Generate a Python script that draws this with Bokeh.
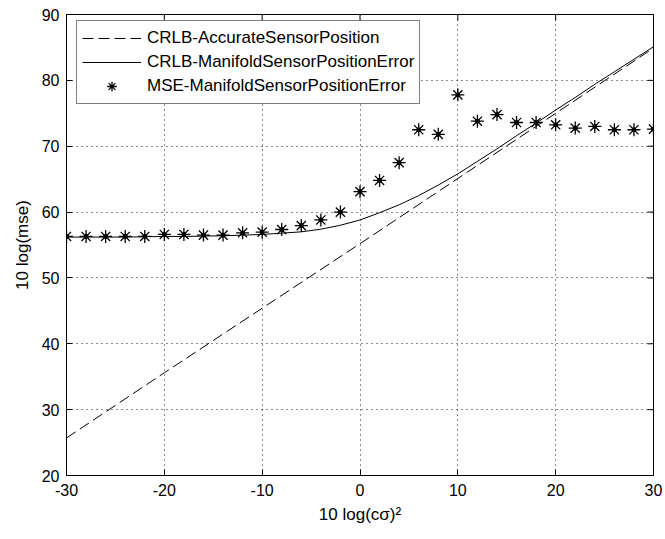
import math
from bokeh.plotting import figure
from bokeh.models import Range1d, FixedTicker, Legend, LegendItem
from bokeh.embed import file_html
from bokeh.resources import INLINE

# ---- data ----
x_crlb_acc = [-30, -20, -10, 0, 10, 20, 30]
y_crlb_acc = [25.7, 35.6, 45.4, 55.2, 65.1, 75.0, 84.9]

x_grid = [-30, -28, -26, -24, -22, -20, -18, -16, -14, -12, -10, -8, -6, -4, -2,
          0, 2, 4, 6, 8, 10, 12, 14, 16, 18, 20, 22, 24, 26, 28, 30]
y_crlb_man = [56.2, 56.2, 56.2, 56.2, 56.25, 56.3, 56.3, 56.35, 56.4, 56.5, 56.6,
              56.8, 57.0, 57.4, 58.0, 58.8, 59.9, 61.1, 62.5, 64.1, 65.8, 67.7,
              69.6, 71.6, 73.5, 75.5, 77.4, 79.4, 81.3, 83.2, 85.1]
y_mse_man = [56.3, 56.3, 56.3, 56.3, 56.3, 56.6, 56.6, 56.5, 56.5, 56.85, 56.95,
             57.35, 57.95, 58.8, 60.0, 63.1, 64.8, 67.5, 72.5, 71.8, 77.8, 73.8,
             74.8, 73.6, 73.6, 73.25, 72.75, 73.0, 72.5, 72.5, 72.6]

x_ticks = [-30, -20, -10, 0, 10, 20, 30]
y_ticks = [20, 30, 40, 50, 60, 70, 80, 90]
x_tick_labels = ["-30", "-20", "-10", "0", "10", "20", "30"]

labels = ["CRLB-AccurateSensorPosition",
          "CRLB-ManifoldSensorPositionError",
          "MSE-ManifoldSensorPositionError"]

FONT = "Liberation Sans"
X0, X1 = x_ticks[0], x_ticks[-1]
Y0, Y1 = y_ticks[0], y_ticks[-1]

p = figure(width=665, height=539, output_backend="svg", toolbar_location=None,
           x_range=Range1d(X0, X1), y_range=Range1d(Y0, Y1),
           min_border_left=66, min_border_right=12, min_border_top=14,
           min_border_bottom=64)
p.background_fill_color = "white"
p.border_fill_color = "white"
p.outline_line_color = "black"
p.outline_line_width = 1

for ax in (p.xaxis[0], p.yaxis[0]):
    ax.major_label_text_font = FONT
    ax.major_label_text_font_size = "16px"
    ax.major_label_text_color = "black"
    ax.axis_label_text_font = FONT
    ax.axis_label_text_font_size = "17px"
    ax.axis_label_text_font_style = "normal"
    ax.axis_label_text_color = "black"
    ax.axis_line_color = "black"
    ax.axis_line_width = 1
    ax.major_tick_in = 6
    ax.major_tick_out = 0
    ax.minor_tick_in = 0
    ax.minor_tick_out = 0
    ax.major_tick_line_color = "black"

p.xaxis[0].ticker = FixedTicker(ticks=x_ticks)
p.xaxis[0].major_label_overrides = dict(zip(x_ticks, x_tick_labels))
p.yaxis[0].ticker = FixedTicker(ticks=y_ticks)
p.xaxis[0].axis_label = "10 log(cσ)²"
p.yaxis[0].axis_label = "10 log(mse)"
p.xaxis[0].major_label_standoff = 8
p.yaxis[0].major_label_standoff = 7
p.xaxis[0].axis_label_standoff = 6
p.yaxis[0].axis_label_standoff = 7

p.xgrid.ticker = FixedTicker(ticks=x_ticks)
p.ygrid.ticker = FixedTicker(ticks=y_ticks)
for g in (p.xgrid[0], p.ygrid[0]):
    g.grid_line_color = "black"
    g.grid_line_dash = "1 4"
    g.grid_line_width = 1
    g.grid_line_alpha = 0.9

# mirrored (box) tick marks on the right and top edges; half of each dash
# lies outside the frame and is clipped, leaving an inward tick
p.scatter([X1] * len(y_ticks), y_ticks, marker="dash", size=12,
          line_color="black", line_width=1)
p.scatter(x_ticks, [Y1] * len(x_ticks), marker="dash", size=12, angle=math.pi / 2,
          line_color="black", line_width=1)

r_acc = p.line(x_crlb_acc, y_crlb_acc, line_color="black", line_width=1,
               line_dash="11 5")
r_man = p.line(x_grid, y_crlb_man, line_color="black", line_width=1)
r_mse = p.scatter(x_grid, y_mse_man, marker="asterisk", size=13,
                  line_color="black", line_width=1.3)
r_dot = p.scatter(x_grid, y_mse_man, marker="circle", size=4,
                  fill_color="black", line_color="black")

legend = Legend(items=[LegendItem(label=labels[0], renderers=[r_acc]),
                       LegendItem(label=labels[1], renderers=[r_man]),
                       LegendItem(label=labels[2], renderers=[r_mse])],
                location=(10, 371))
legend.label_text_font = FONT
legend.label_text_font_size = "17px"
legend.label_text_color = "black"
legend.label_height = 24
legend.glyph_height = 24
legend.glyph_width = 59
legend.label_standoff = 6
legend.spacing = 0
legend.padding = 5
legend.margin = 0
legend.border_line_color = "black"
legend.border_line_width = 1
legend.background_fill_color = "white"
legend.background_fill_alpha = 1
p.add_layout(legend, "center")

open("out.html", "w").write(file_html(p, INLINE))
